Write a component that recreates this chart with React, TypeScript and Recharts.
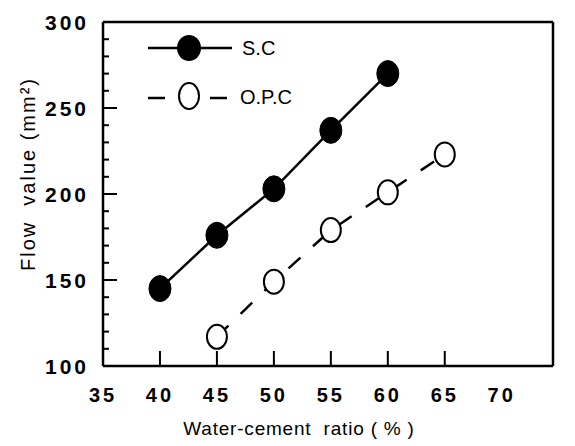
import React from 'react';
import { LineChart, Line, XAxis, YAxis, Legend, Label, ReferenceLine } from 'recharts';

const wcRatioSC = [40, 45, 50, 55, 60];
const flowSC = [145, 176, 203, 237, 270];
const wcRatioOPC = [45, 50, 55, 60, 65];
const flowOPC = [117, 149, 179, 201, 223];
const xTicks = [35, 40, 45, 50, 55, 60, 65, 70];
const yTicks = [100, 110, 120, 130, 140, 150, 160, 170, 180, 190, 200, 210, 220, 230, 240, 250, 260, 270, 280, 290, 300];
const yLabels = [100, 150, 200, 250, 300];
const seriesNames = ['S.C', 'O.P.C'];
const xTitle = 'Water-cement  ratio ( % )';
const yTitle = 'Flow  value (mm²)';
const xMax = 74.5;

const dataSC = wcRatioSC.map((x, i) => ({ x, y: flowSC[i] }));
const dataOPC = wcRatioOPC.map((x, i) => ({ x, y: flowOPC[i] }));

const FONT = '"Liberation Sans", Arial, sans-serif';

const XTick = (props: any) => {
  const { x, y, payload } = props;
  const v = payload.value;
  const mark = v > 35 && v < 70;
  return (
    <g>
      {mark && <line x1={x} x2={x} y1={y} y2={y - 15} stroke="#000" strokeWidth={2} />}
      <text x={x} y={y + 36} textAnchor="middle" fontFamily={FONT} fontWeight="bold" fontSize={20} letterSpacing={3} fill="#000">
        {v}
      </text>
    </g>
  );
};

const YTick = (props: any) => {
  const { x, y, payload } = props;
  const v = payload.value;
  const major = yLabels.includes(v);
  return (
    <g>
      {v > 100 && v < 300 && (
        <line x1={x} x2={x + (major ? 14 : 6)} y1={y} y2={y} stroke="#000" strokeWidth={2} />
      )}
      {major && (
        <text x={x - 14} y={y + 8} textAnchor="end" fontFamily={FONT} fontWeight="bold" fontSize={21} letterSpacing={3} fill="#000">
          {v}
        </text>
      )}
    </g>
  );
};

const XTitle = (props: any) => {
  const vb = props.viewBox || {};
  const cx = vb.x + vb.width / 2 - 29;
  return (
    <text x={cx} y={vb.y + 69} textAnchor="middle" fontFamily={FONT} fontSize={19} letterSpacing={0.8} fill="#000" style={{ whiteSpace: 'pre' }}>
      {xTitle}
    </text>
  );
};

const YTitle = (props: any) => {
  const vb = props.viewBox || {};
  const cx = 20;
  const cy = vb.y + vb.height / 2 - 20;
  return (
    <text x={cx} y={cy} transform={`rotate(-90 ${cx} ${cy})`} textAnchor="middle" dominantBaseline="central" fontFamily={FONT} fontSize={20} letterSpacing={2} fill="#000" style={{ whiteSpace: 'pre' }}>
      {yTitle}
    </text>
  );
};

const FilledDot = (props: any) => {
  const { cx, cy } = props;
  if (cx == null || cy == null) return null;
  return <ellipse cx={cx} cy={cy} rx={11} ry={13} fill="#000" stroke="#000" />;
};

const OpenDot = (props: any) => {
  const { cx, cy } = props;
  if (cx == null || cy == null) return null;
  return <ellipse cx={cx} cy={cy} rx={10} ry={12} fill="#fff" stroke="#000" strokeWidth={2} />;
};

const LegendContent = () => (
  <svg width={180} height={90}>
    <line x1={8} x2={92} y1={20} y2={20} stroke="#000" strokeWidth={2.5} />
    <ellipse cx={49} cy={20} rx={12} ry={13} fill="#000" />
    <text x={102} y={27} fontFamily={FONT} fontSize={20} fill="#000">{seriesNames[0]}</text>
    <line x1={8} x2={25} y1={70} y2={70} stroke="#000" strokeWidth={2.5} />
    <ellipse cx={49} cy={68} rx={10} ry={13} fill="#fff" stroke="#000" strokeWidth={2} />
    <line x1={70} x2={87} y1={70} y2={70} stroke="#000" strokeWidth={2.5} />
    <text x={100} y={76} fontFamily={FONT} fontSize={20} fill="#000">{seriesNames[1]}</text>
  </svg>
);

export default function App() {
  return (
    <LineChart width={567} height={438} margin={{ top: 14, right: 22, left: 0, bottom: 0 }}>
      <XAxis
        type="number"
        dataKey="x"
        domain={[35, xMax]}
        ticks={xTicks}
        interval={0}
        tick={<XTick />}
        tickLine={false}
        tickSize={0}
        tickMargin={0}
        height={80}
        axisLine={{ stroke: '#000', strokeWidth: 2.5 }}
        allowDataOverflow
      >
        <Label content={<XTitle />} />
      </XAxis>
      <YAxis
        type="number"
        dataKey="y"
        domain={[100, 300]}
        ticks={yTicks}
        interval={0}
        tick={<YTick />}
        tickLine={false}
        tickSize={0}
        tickMargin={0}
        width={95}
        axisLine={{ stroke: '#000', strokeWidth: 2.5 }}
        allowDataOverflow
      >
        <Label content={<YTitle />} />
      </YAxis>
      <ReferenceLine y={300} stroke="#000" strokeWidth={2.5} ifOverflow="visible" />
      <ReferenceLine x={xMax} stroke="#000" strokeWidth={2.5} ifOverflow="visible" />
      <Legend
        layout="horizontal"
        verticalAlign="middle"
        align="center"
        content={<LegendContent />}
        wrapperStyle={{ position: 'absolute', left: 132, top: 20, width: 180, height: 90 }}
      />
      <Line data={dataSC} dataKey="y" name={seriesNames[0]} stroke="#000" strokeWidth={2.5} dot={<FilledDot />} isAnimationActive={false} />
      <Line data={dataOPC} dataKey="y" name={seriesNames[1]} stroke="#000" strokeWidth={2.5} strokeDasharray="16 17" dot={<OpenDot />} isAnimationActive={false} />
    </LineChart>
  );
}
